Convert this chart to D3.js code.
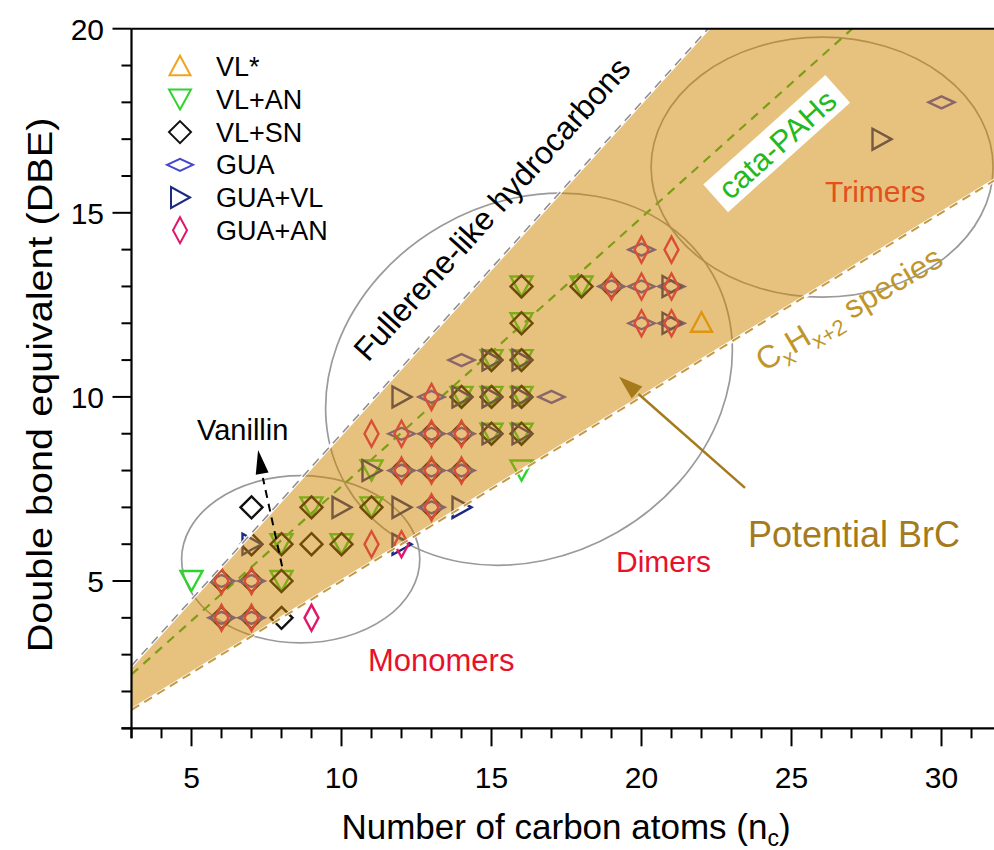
<!DOCTYPE html>
<html><head><meta charset="utf-8">
<script src="https://cdn.jsdelivr.net/npm/d3@7"></script>
<style>body{margin:0;background:#fff}svg{display:block}text{font-family:"Liberation Sans",Arial,Helvetica,sans-serif}</style>
</head><body><svg id="c" width="994" height="850"></svg>
<script>
// ---------- data ----------
const xMajorTicks = [5, 10, 15, 20, 25, 30];
const yMajorTicks = [5, 10, 15, 20];
const seriesNames = ["VL*", "VL+AN", "VL+SN", "GUA", "GUA+VL", "GUA+AN"];
const VL_star = [[22,12]];
const VL_AN = [[5,5],[8,5],[8,6],[9,7],[10,6],[11,7],[11,8],[15,9],[16,9],[14,10],[15,10],[16,10],[15,11],[16,11],[16,12],[16,13],[16,8],[18,13]];
const VL_SN = [[6,4],[7,4],[8,4],[6,5],[7,5],[8,5],[7,6],[8,6],[9,6],[10,6],[7,7],[9,7],[11,7],[13,7],[12,8],[13,8],[14,8],[13,9],[14,9],[15,9],[16,9],[14,10],[15,10],[16,10],[15,11],[16,11],[16,12],[16,13],[18,13],[19,13]];
const GUA = [[6,4],[7,4],[6,5],[7,5],[13,7],[12,8],[13,8],[14,8],[12,9],[13,9],[14,9],[13,10],[14,11],[17,10],[19,13],[20,13],[21,13],[20,14],[20,12],[21,12],[30,18]];
const GUA_VL = [[7,6],[12,6],[10,7],[12,7],[14,7],[11,8],[12,10],[14,10],[15,10],[16,10],[15,9],[16,9],[15,11],[16,11],[21,13],[21,12],[28,17]];
const GUA_AN = [[6,4],[7,4],[9,4],[6,5],[7,5],[11,6],[12,6],[13,7],[12,8],[13,8],[14,8],[11,9],[12,9],[13,9],[14,9],[13,10],[19,13],[20,13],[21,13],[20,14],[21,14],[20,12],[21,12]];
// boundary lines DBE = slope * nC + intercept
const fullereneLine = [0.9, 0];
const cataPAHLine = [0.73, 0.27];
const alkaneLine = [0.5, 0];
// region ellipses [cx(nC), cy(DBE), rx(nC units), ry(DBE units), rotation deg]
const monomerEllipse = [8.64, 5.59, 3.97, 2.27, 0];
const dimerEllipse = [16.25, 10.48, 7.05, 4.8, -30];
const trimerEllipse = [26.02, 16.24, 5.7, 3.53, 0];

// ---------- setup ----------
const W = 994, H = 850;
const svg = d3.select("#c");
const x = d3.scaleLinear().domain([3, 35]).range([131.5, 1091.5]);
const y = d3.scaleLinear().domain([1, 20]).range([728.3, 28.7]);
const colors = {"VL*":"#F0A41E","VL+AN":"#2ED42E","VL+SN":"#111111","GUA":"#4646D2","GUA+VL":"#1E2A82","GUA+AN":"#E0186A"};
const shapes = {"VL*":"triUp","VL+AN":"triDown","VL+SN":"diamond","GUA":"wide","GUA+VL":"triRight","GUA+AN":"tall"};
const seriesData = {"VL*":VL_star,"VL+AN":VL_AN,"VL+SN":VL_SN,"GUA":GUA,"GUA+VL":GUA_VL,"GUA+AN":GUA_AN};
function shapePath(t){
  switch(t){
    case "triUp": return "M0,-11L10.5,8.5L-10.5,8.5Z";
    case "triDown": return "M0,10L11,-10L-11,-10Z";
    case "diamond": return "M0,-11L11,0L0,11L-11,0Z";
    case "wide": return "M-13,0L0,-6L13,0L0,6Z";
    case "tall": return "M0,-13L7,0L0,13L-7,0Z";
    case "triRight": return "M10,0L-9,-10.5L-9,10.5Z";
  }
}
const defs = svg.append("defs");
defs.append("clipPath").attr("id","plot").append("rect")
  .attr("x", x(3)).attr("y", y(20)).attr("width", W - x(3)).attr("height", y(1) - y(20));

const plot = svg.append("g").attr("clip-path","url(#plot)");

// ellipses
[monomerEllipse, dimerEllipse, trimerEllipse].forEach(e=>{
  const cx = x(e[0]), cy = y(e[1]);
  plot.append("ellipse").attr("transform",`translate(${cx},${cy}) rotate(${e[4]})`)
    .attr("rx", x(e[0]+e[2]) - cx).attr("ry", cy - y(e[1]+e[3]))
    .attr("fill","none").attr("stroke","#9a9a9a").attr("stroke-width",1.7);
});
// cata-PAH line
const lineGen = d3.line().x(d=>x(d[0])).y(d=>y(d[1]));
function linePts(l, x0, x1){ return [[x0, l[0]*x0+l[1]],[x1, l[0]*x1+l[1]]]; }
plot.append("path").attr("d", lineGen(linePts(cataPAHLine, 3, (20-cataPAHLine[1])/cataPAHLine[0])))
  .attr("stroke","#2CB52C").attr("stroke-width",2.2).attr("stroke-dasharray","9,7").attr("fill","none");

// markers
seriesNames.forEach(name=>{
  plot.append("g").selectAll("path").data(seriesData[name]).join("path")
    .attr("d", shapePath(shapes[name]))
    .attr("transform", d=>`translate(${x(d[0])},${y(d[1])})`)
    .attr("fill","none").attr("stroke", colors[name]).attr("stroke-width",2.4);
});

// band
const xTop = 20 / fullereneLine[0];
const band = [[3, fullereneLine[0]*3], [xTop, 20], [35, 20], [35, alkaneLine[0]*35], [3, alkaneLine[0]*3]];
plot.append("path").attr("d", lineGen(band) + "Z").attr("fill","rgb(208,133,0)").attr("fill-opacity",0.5);

// boundary lines
const upperPts = linePts(fullereneLine, 3, xTop);
const lowerPts = linePts(alkaneLine, 3, 35);
plot.append("path").attr("d", lineGen(upperPts)).attr("stroke","#fff").attr("stroke-width",3.5).attr("fill","none");
plot.append("path").attr("d", lineGen(upperPts)).attr("stroke","#8c8c8c").attr("stroke-width",1.5).attr("stroke-dasharray","9,6").attr("fill","none");
plot.append("path").attr("d", lineGen(lowerPts)).attr("stroke","#fff").attr("stroke-width",3.5).attr("fill","none");
plot.append("path").attr("d", lineGen(lowerPts)).attr("stroke","#C49A46").attr("stroke-width",2).attr("stroke-dasharray","9,6").attr("fill","none");

// annotations
const ann = svg.append("g");
const cg = ann.append("g").attr("transform","translate(777,144) rotate(-41.9)");
cg.append("rect").attr("x",-82).attr("y",-19).attr("width",164).attr("height",37).attr("fill","#fff");
cg.append("text").attr("text-anchor","middle").attr("dy","0.36em").attr("font-size",31).attr("fill","#22B922").text("cata-PAHs");
ann.append("text").attr("transform","translate(368,363) rotate(-48)").attr("font-size",32).attr("fill","#000").text("Fullerene-like hydrocarbons");
const ct = ann.append("text").attr("transform","translate(764,372) rotate(-30.8)").attr("font-size",32).attr("fill","#C0962A");
ct.append("tspan").text("C");
ct.append("tspan").attr("font-size",22).attr("dy",8).text("x");
ct.append("tspan").attr("dy",-8).text("H");
ct.append("tspan").attr("font-size",22).attr("dy",8).text("x+2");
ct.append("tspan").attr("dy",-8).text(" species");
ann.append("text").attr("x",825).attr("y",202).attr("font-size",30).attr("fill","#E2501C").text("Trimers");
ann.append("text").attr("x",616).attr("y",572).attr("font-size",30).attr("fill","#E8102A").text("Dimers");
ann.append("text").attr("x",368).attr("y",671).attr("font-size",31).attr("fill","#E8102A").text("Monomers");
ann.append("text").attr("x",197).attr("y",440).attr("font-size",29).attr("fill","#000").text("Vanillin");
ann.append("text").attr("x",748).attr("y",547).attr("font-size",36).attr("fill","#A57A1C").text("Potential BrC");
// vanillin arrow (dashed stem + filled head)
ann.append("path").attr("d", lineGen([[8.02,5.4],[7.7,6.6],[7.38,7.8]]))
  .attr("stroke","#000").attr("stroke-width",2).attr("stroke-dasharray","8,6").attr("fill","none");
function arrowHead(g, tail, tip, len, half, color){
  const x0 = x(tail[0]), y0 = y(tail[1]), x1 = x(tip[0]), y1 = y(tip[1]);
  const a = Math.atan2(y1-y0, x1-x0), c = Math.cos(a), s = Math.sin(a);
  const bx = x1 - c*len, by = y1 - s*len;
  g.append("path").attr("d", `M${x1},${y1}L${bx - s*half},${by + c*half}L${bx + s*half},${by - c*half}Z`).attr("fill", color);
}
arrowHead(ann, [7.38,7.8], [7.22,8.56], 24, 6.5, "#000");
// BrC arrow
const brcTail = [23.45,7.53], brcTip = [19.25,10.55];
ann.append("path").attr("d", lineGen([brcTail, [19.9,10.08]])).attr("stroke","#A57A1C").attr("stroke-width",2.5).attr("fill","none");
arrowHead(ann, brcTail, brcTip, 24, 8, "#A57A1C");

// legend
const lg = svg.append("g");
seriesNames.forEach((name,i)=>{
  const cy = 66.7 + i*32.7;
  lg.append("path").attr("d", shapePath(shapes[name])).attr("transform",`translate(180,${cy})`)
    .attr("fill","none").attr("stroke", colors[name]).attr("stroke-width",2);
  lg.append("text").attr("x",216).attr("y",cy+9.5).attr("font-size",27).attr("fill","#000").text(name);
});

// axes
const ax = svg.append("g").attr("stroke","#000");
const xMinor = d3.range(3, 32);
const yMinor = d3.range(1, 21);
ax.append("line").attr("x1", x(3)-10).attr("x2", W).attr("y1", y(1)).attr("y2", y(1)).attr("stroke-width",2.2);
ax.append("line").attr("x1", x(3)).attr("x2", W).attr("y1", y(20)).attr("y2", y(20)).attr("stroke-width",2);
ax.append("line").attr("x1", x(3)).attr("x2", x(3)).attr("y1", y(20)).attr("y2", y(1)+10).attr("stroke-width",2.2);
ax.selectAll(".xt").data(xMinor).join("line")
  .attr("x1", d=>x(d)).attr("x2", d=>x(d)).attr("y1", y(1)).attr("y2", d=>y(1)+(xMajorTicks.includes(d)?18:10)).attr("stroke-width",2);
ax.selectAll(".yt").data(yMinor).join("line")
  .attr("y1", d=>y(d)).attr("y2", d=>y(d)).attr("x1", x(3)).attr("x2", d=>x(3)-(yMajorTicks.includes(d)?19:10)).attr("stroke-width",2);
svg.append("g").selectAll("text").data(xMajorTicks).join("text")
  .attr("x", d=>x(d)).attr("y", 788).attr("text-anchor","middle").attr("font-size",30).text(d=>d);
svg.append("g").selectAll("text").data(yMajorTicks).join("text")
  .attr("x", 104).attr("y", d=>y(d)).attr("dy","0.36em").attr("text-anchor","end").attr("font-size",30).text(d=>d);
const xt = svg.append("text").attr("x",566).attr("y",839).attr("text-anchor","middle").attr("font-size",35);
xt.append("tspan").text("Number of carbon atoms (n");
xt.append("tspan").attr("font-size",23).attr("dy",7).text("c");
xt.append("tspan").attr("dy",-7).text(")");
svg.append("text").attr("transform","translate(52,385) scale(1,1.1) rotate(-90)").attr("text-anchor","middle").attr("font-size",36)
  .text("Double bond equivalent (DBE)");
</script></body></html>
